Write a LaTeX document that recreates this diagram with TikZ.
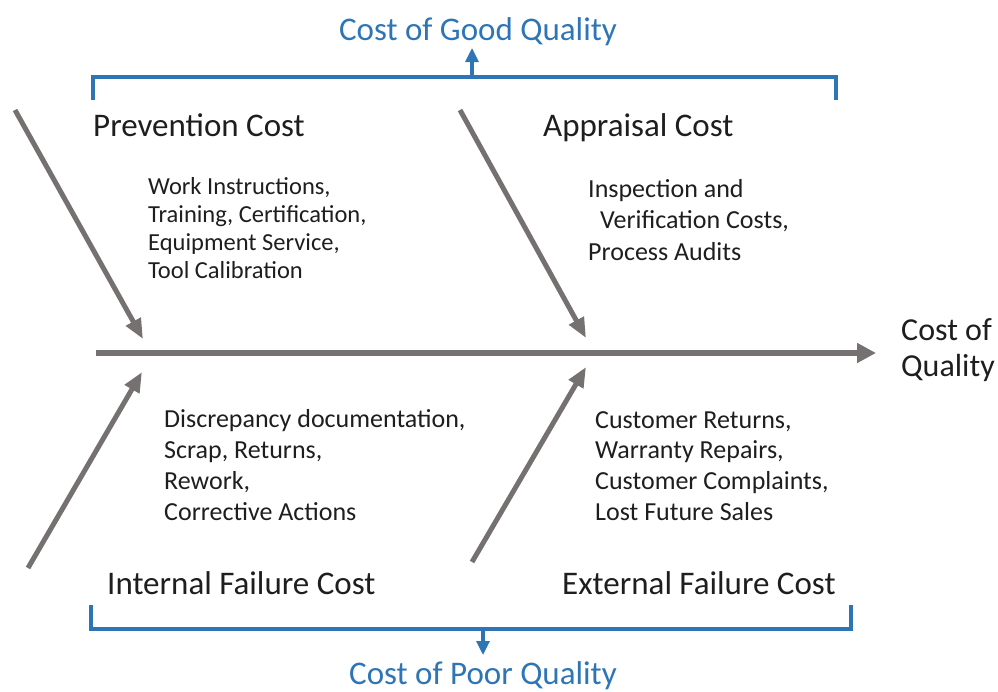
\documentclass[tikz,border=0pt]{standalone}
\usepackage{fontspec}
\setmainfont{Carlito}
\usetikzlibrary{arrows.meta}
\definecolor{bonegray}{RGB}{118,113,113}
\definecolor{costblue}{RGB}{46,117,182}
\definecolor{textdark}{RGB}{30,30,30}

\begin{document}
\begin{tikzpicture}[x=1pt,y=-1pt,
		bone/.style={draw=bonegray,line width=5pt,-{Triangle[length=20pt,width=16pt]}},
		spine/.style={draw=bonegray,line width=5.5pt,-{Triangle[length=19pt,width=19pt]}},
		bracket/.style={draw=costblue,line width=3.2pt},
		lift/.style={draw=costblue,line width=3.2pt,-{Triangle[length=14pt,width=13pt]}},
		head/.style={text=textdark,inner sep=0pt,font=\fontsize{33}{36}\selectfont},
		items/.style={text=textdark,inner sep=0pt,align=left,anchor=north west},
		title/.style={text=costblue,inner sep=0pt,font=\fontsize{33}{36}\selectfont}]

		\useasboundingbox (0,0) rectangle (998,691);

		% spine and effect
		\coordinate (tail) at (96,353);
		\node[text=textdark,inner sep=0pt,align=left,anchor=north west,font=\fontsize{32}{36}\selectfont] (effect) at (901,318) {Cost of\\Quality};
		\draw[spine,shorten >=25pt] (tail) -- (tail -| effect.west);

		% bones
		\coordinate (pstart) at (15,110);  \coordinate (pend) at (143,339);
		\coordinate (astart) at (460,110); \coordinate (aend) at (586,338);
		\coordinate (istart) at (28,568);  \coordinate (iend) at (142,372);
		\coordinate (estart) at (472,562); \coordinate (eend) at (586,367);
		\draw[bone] (pstart) -- (pend);
		\draw[bone] (astart) -- (aend);
		\draw[bone] (istart) -- (iend);
		\draw[bone] (estart) -- (eend);

		% categories
		\node[head,anchor=base west] (prev) at (93,136) {Prevention Cost};
		\node[head,anchor=base west] (appr) at (543,136) {Appraisal Cost};
		\node[head,anchor=base west] (intf) at (107,594) {Internal Failure Cost};
		\node[head,anchor=base west] (extf) at (562,594) {External Failure Cost};

		\node[items,font=\fontsize{24.5}{28}\selectfont] (prevlist) at (148,177) {Work Instructions,\\Training, Certification,\\Equipment Service,\\Tool Calibration};
		\node[items,font=\fontsize{26}{31.5}\selectfont] (apprlist) at (588,179) {Inspection and\\\hspace*{12pt}Verification Costs,\\Process Audits};
		\node[items,font=\fontsize{26}{31}\selectfont] (intflist) at (164,409) {Discrepancy documentation,\\Scrap, Returns,\\Rework,\\Corrective Actions};
		\node[items,font=\fontsize{26}{30.7}\selectfont] (extflist) at (595,411) {Customer Returns,\\Warranty Repairs,\\Customer Complaints,\\Lost Future Sales};

		% good quality bracket
		\coordinate (gl) at (93,100); \coordinate (gr) at (836,100);
		\draw[bracket] (gl) |- (472,77) -| (gr);
		\node[title,anchor=base] (good) at (478,40) {Cost of Good Quality};
		\draw[lift] (472,77) -- (472,48);

		% poor quality bracket
		\coordinate (bl) at (91,605); \coordinate (br) at (851,605);
		\draw[bracket] (bl) |- (483,629) -| (br);
		\node[title,anchor=base] (poor) at (483,684) {Cost of Poor Quality};
		\draw[lift] (483,629) -- (483,655);

	\end{tikzpicture}
\end{document}
